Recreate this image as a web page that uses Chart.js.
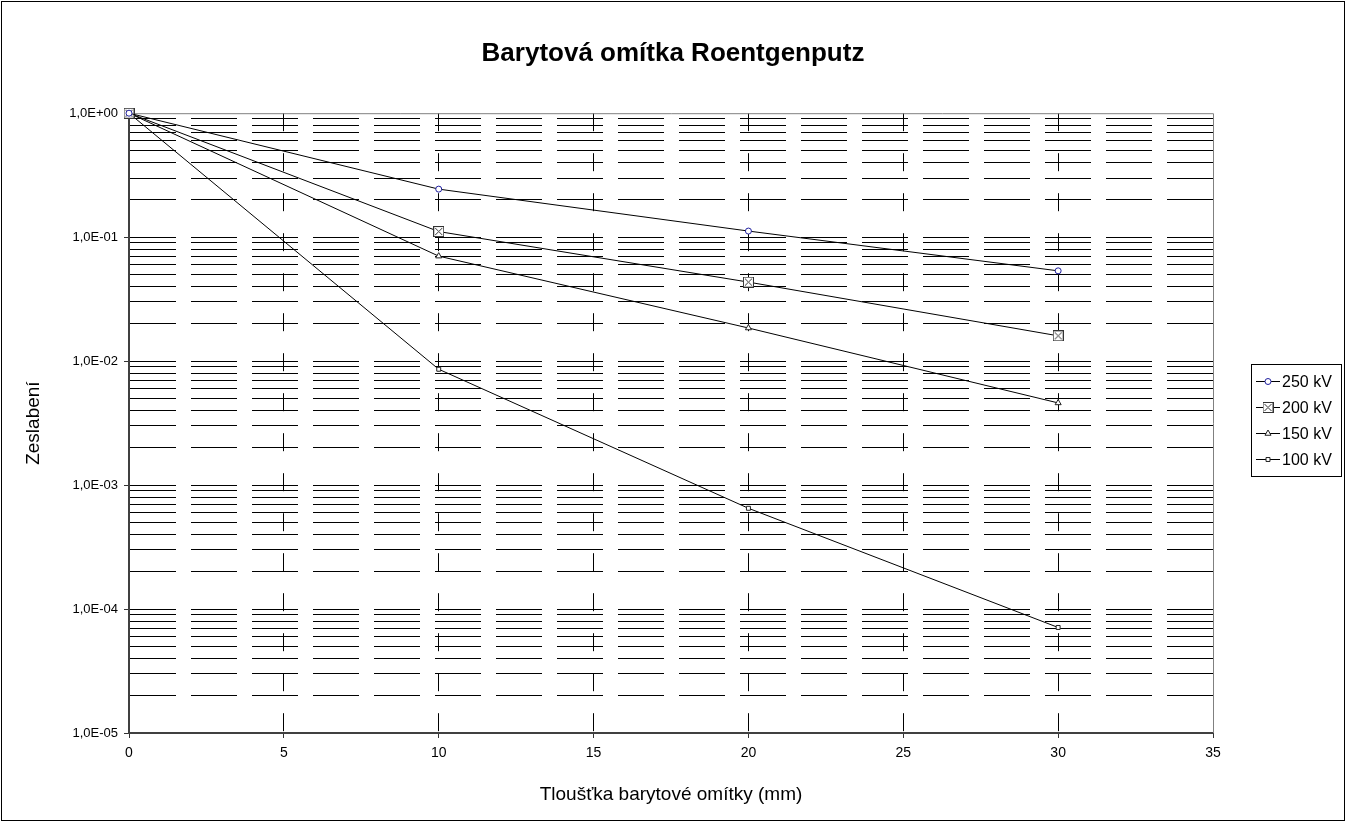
<!DOCTYPE html>
<html><head><meta charset="utf-8">
<script src="https://cdn.jsdelivr.net/npm/chart.js@4.4.1/dist/chart.umd.min.js"></script>
<style>html,body{margin:0;padding:0;background:#fff}#wrap{width:1346px;height:822px;position:relative}</style>
</head><body><div id="wrap"><canvas id="c" width="1346" height="822"></canvas></div>
<script>
// ---- data ----
const thickness = [0, 10, 20, 30];
const kv250 = [1, 0.244, 0.112, 0.0535];
const kv200 = [1, 0.111, 0.0434, 0.016];
const kv150 = [1, 0.0703, 0.0185, 0.0046];
const kv100 = [1, 0.0086, 0.00065, 0.000071];
const seriesLabels = ['250 kV', '200 kV', '150 kV', '100 kV'];
const xTicks = [0, 5, 10, 15, 20, 25, 30, 35];
const yDecades = [-5, -4, -3, -2, -1, 0];
const chartTitle = 'Barytová omítka Roentgenputz';
const xTitle = 'Tloušťka barytové omítky (mm)';
const yTitle = 'Zeslabení';

const FONT = 'Arial, "Liberation Sans", Helvetica, sans-serif';

function markerCanvas() {
  const s = 11, c = document.createElement('canvas');
  c.width = s; c.height = s;
  const g = c.getContext('2d');
  g.strokeStyle = '#333'; g.lineWidth = 1; g.fillStyle = '#fff';
  g.fillRect(0.5, 0.5, s - 1, s - 1);
  g.strokeRect(0.5, 0.5, s - 1, s - 1);
  g.beginPath();
  g.moveTo(2, 2); g.lineTo(s - 2, s - 2);
  g.moveTo(s - 2, 2); g.lineTo(2, s - 2);
  g.stroke();
  return c;
}
const sqX = markerCanvas();

const styles = [
  {pointStyle: 'circle', radius: 3, border: '#1f1f9f', bg: '#ffffff'},
  {pointStyle: sqX, radius: 5, border: '#333333', bg: '#ffffff'},
  {pointStyle: 'triangle', radius: 3.5, border: '#222222', bg: '#ffffff'},
  {pointStyle: 'rect', radius: 2.8, border: '#222222', bg: '#ffffff'}
];
const seriesValues = [kv250, kv200, kv150, kv100];

const datasets = seriesValues.map((vals, i) => ({
  label: seriesLabels[i],
  data: thickness.map((x, j) => ({x: x, y: vals[j]})),
  borderColor: '#000',
  borderWidth: 1,
  pointStyle: styles[i].pointStyle,
  pointRadius: styles[i].radius,
  pointBorderColor: styles[i].border,
  pointBackgroundColor: styles[i].bg,
  pointBorderWidth: 1,
  tension: 0,
  clip: false
}));

const yTickValues = [];
yDecades.forEach(e => {
  for (let k = 1; k <= 9; k++) {
    if (e === 0 && k > 1) break;
    yTickValues.push(k * Math.pow(10, e));
  }
});
function isMajorY(v) {
  const l = Math.log10(v);
  return Math.abs(l - Math.round(l)) < 1e-9;
}
function fmtE(v) {
  const e = Math.round(Math.log10(v));
  const sign = e < 0 ? '-' : '+';
  const a = Math.abs(e);
  return '1,0E' + sign + (a < 10 ? '0' + a : a);
}

const framePlugin = {
  id: 'frame',
  beforeDraw(chart) {
    const ctx = chart.ctx;
    ctx.save();
    ctx.fillStyle = '#fff';
    ctx.fillRect(0, 0, chart.width, chart.height);
    ctx.restore();
  },
  beforeDatasetsDraw(chart) {
    const {ctx, chartArea: a} = chart;
    ctx.save();
    ctx.strokeStyle = '#808080';
    ctx.lineWidth = 1;
    ctx.beginPath();
    ctx.moveTo(a.left, a.top + 0.5); ctx.lineTo(a.right + 0.5, a.top + 0.5);
    ctx.lineTo(a.right + 0.5, a.bottom);
    ctx.stroke();
    ctx.restore();
  },
  afterDraw(chart) {
    const ctx = chart.ctx;
    ctx.save();
    ctx.strokeStyle = '#000';
    ctx.lineWidth = 1;
    ctx.strokeRect(1.5, 1.5, chart.width - 3, chart.height - 3);
    // legend
    const lx = 1251, ly = 364, lw = 90, lh = 112, rowH = 26;
    ctx.fillStyle = '#fff';
    ctx.fillRect(lx, ly, lw, lh);
    ctx.strokeStyle = '#000';
    ctx.strokeRect(lx + 0.5, ly + 0.5, lw, lh);
    ctx.font = '16px ' + FONT;
    ctx.textBaseline = 'middle';
    ctx.textAlign = 'left';
    chart.data.datasets.forEach((ds, i) => {
      const y = Math.round(ly + 17 + i * rowH) + 0.5;
      ctx.strokeStyle = '#000';
      ctx.lineWidth = 1;
      ctx.beginPath();
      ctx.moveTo(lx + 5, y); ctx.lineTo(lx + 29, y);
      ctx.stroke();
      ctx.strokeStyle = ds.pointBorderColor;
      ctx.fillStyle = ds.pointBackgroundColor;
      Chart.helpers.drawPoint(ctx, {pointStyle: ds.pointStyle, radius: ds.pointRadius, rotation: 0, borderWidth: 1}, lx + 17, y);
      ctx.fillStyle = '#000';
      ctx.fillText(ds.label, lx + 31, y + 1);
    });
    ctx.restore();
  }
};

new Chart(document.getElementById('c'), {
  type: 'line',
  data: {datasets},
  plugins: [framePlugin],
  options: {
    responsive: false,
    animation: false,
    events: [],
    layout: {padding: 0},
    plugins: {
      legend: {display: false},
      tooltip: {enabled: false},
      title: {
        display: true,
        text: chartTitle,
        color: '#000',
        font: {family: FONT, size: 26, weight: 'bold'},
        padding: {top: 38, bottom: 44}
      }
    },
    scales: {
      x: {
        type: 'linear',
        min: 0, max: 35,
        afterBuildTicks(scale) { scale.ticks = xTicks.map(v => ({value: v})); },
        afterFit(scale) { scale.height = 89; },
        ticks: {
          color: '#000',
          font: {family: FONT, size: 14},
          padding: 7,
          maxRotation: 0,
          autoSkip: false,
          callback: v => String(v)
        },
        grid: {
          color: ctx => (ctx.tick && (ctx.tick.value === 0 || ctx.tick.value === 35)) ? 'rgba(0,0,0,0)' : '#000',
          lineWidth: 1,
          tickLength: 5,
          tickColor: '#333',
          tickBorderDash: []
        },
        border: {display: true, color: '#404040', width: 2, dash: [18, 22]},
        title: {
          display: true, text: xTitle, color: '#000',
          font: {family: FONT, size: 19},
          padding: {top: 0, bottom: 16}
        }
      },
      y: {
        type: 'logarithmic',
        min: 1e-5, max: 1,
        afterBuildTicks(scale) { scale.ticks = yTickValues.map(v => ({value: v, major: isMajorY(v)})); },
        afterFit(scale) { scale.width = 129; },
        ticks: {
          color: '#000',
          font: {family: FONT, size: 13},
          padding: 6,
          autoSkip: false,
          callback: v => isMajorY(v) ? fmtE(v) : ''
        },
        grid: {
          color: ctx => (ctx.tick && (ctx.tick.value === 1 || ctx.tick.value === 1e-5)) ? 'rgba(0,0,0,0)' : '#000',
          lineWidth: 1,
          tickLength: 5,
          tickColor: ctx => (ctx.tick && isMajorY(ctx.tick.value)) ? '#333' : 'rgba(0,0,0,0)',
          tickBorderDash: []
        },
        border: {display: true, color: '#404040', width: 2, dash: [46, 15]},
        title: {
          display: true, text: yTitle, color: '#000',
          font: {family: FONT, size: 19},
          padding: {top: 22, bottom: 0}
        }
      },
      legendSpace: {
        type: 'linear',
        position: 'right',
        display: true,
        afterFit(scale) { scale.width = 133; },
        ticks: {display: false},
        grid: {display: false},
        border: {display: false},
        title: {display: false}
      }
    }
  }
});
</script>
</body></html>
